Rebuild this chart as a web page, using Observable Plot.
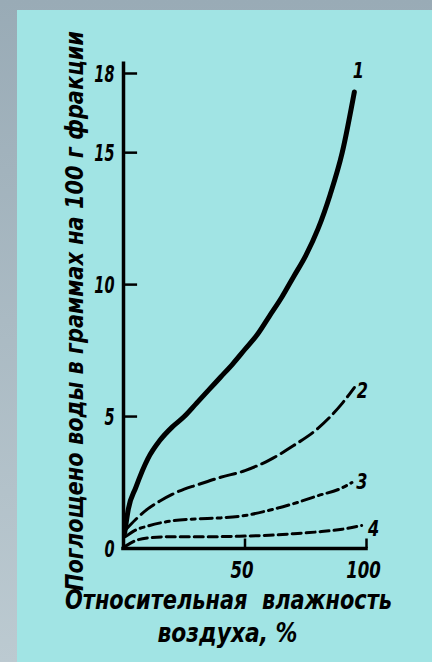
<!DOCTYPE html>
<html><head><meta charset="utf-8">
<script src="https://cdn.jsdelivr.net/npm/d3@7"></script>
<script src="https://cdn.jsdelivr.net/npm/@observablehq/plot@0.6"></script>
<style>
html,body{margin:0;padding:0;width:432px;height:662px;overflow:hidden;background:linear-gradient(#99abb6,#bccad1);}
#panel{position:absolute;left:17px;top:10px;width:415px;height:652px;background:#a1e4e4;}
#chart{position:absolute;left:0;top:0;}
</style></head><body><div id="panel"></div><div id="chart"></div>
<script>
// Relative humidity (%) and absorbed water (g per 100 g fraction) for four fractions
const hum1 = [0.5, 2, 5, 10, 15, 20, 25, 30, 35, 40, 45, 50, 55, 60, 65, 70, 75, 80, 85, 90, 95];
const val1 = [0.6, 1.5, 2.3, 3.4, 4.1, 4.6, 5.0, 5.5, 6.0, 6.5, 7.0, 7.55, 8.1, 8.8, 9.5, 10.3, 11.1, 12.1, 13.4, 15.0, 17.3];
const hum2 = [0.8, 5, 10, 15, 20, 25, 30, 40, 50, 60, 70, 80, 90, 95];
const val2 = [0.7, 1.1, 1.5, 1.8, 2.05, 2.25, 2.4, 2.7, 2.95, 3.35, 3.9, 4.55, 5.5, 6.1];
const hum3 = [0.8, 5, 10, 20, 30, 40, 50, 60, 70, 80, 90, 94];
const val3 = [0.45, 0.7, 0.85, 1.05, 1.12, 1.16, 1.25, 1.45, 1.7, 2.0, 2.3, 2.5];
const hum4 = [1, 5, 10, 20, 30, 40, 50, 60, 70, 80, 90, 98];
const val4 = [0.1, 0.3, 0.4, 0.45, 0.45, 0.45, 0.47, 0.5, 0.56, 0.63, 0.73, 0.87];
const seriesNames = ["1", "2", "3", "4"];
const yTicks = [0, 5, 10, 15, 18];
const xTicks = [50, 100];
const yTitle = "Поглощено воды в граммах на 100 г фракции";
const xTitle1 = "Относительная  влажность";
const xTitle2 = "воздуха, %";

const hums = [hum1, hum2, hum3, hum4];
const vals = [val1, val2, val3, val4];
const table = seriesNames.flatMap((s, i) => hums[i].map((h, j) => ({series: s, x: h, y: vals[i][j]})));
const of = s => table.filter(d => d.series === s);

const FONT = "'DejaVu Sans Condensed','DejaVu Sans',sans-serif";
const txt = {fontFamily: FONT, fontStyle: "italic", fontWeight: "bold", fill: "black"};
const dashes = {"2": "16,6", "3": "12,5,4,5", "4": "9,5"};
const labelOffsets = {"1": [4, -21], "2": [8, 4], "3": [10, 0], "4": [12, 4]};

const svg = Plot.plot({
  width: 432, height: 662,
  marginLeft: 123, marginRight: 66, marginTop: 73, marginBottom: 114,
  x: {domain: [0, 100], axis: null},
  y: {domain: [0, 18], axis: null},
  style: {background: "transparent", fontFamily: FONT, color: "black"},
  marks: [
    Plot.ruleX([0], {y1: 0, y2: 18.37, strokeWidth: 3.5, strokeLinecap: "square"}),
    Plot.ruleY([0], {x1: 0, x2: 100, strokeWidth: 3.5, strokeLinecap: "square"}),
    Plot.ruleY(yTicks.filter(d => d > 0), {y: d => d, x1: 0, x2: 5.8, strokeWidth: 2.5}),
    Plot.ruleX(xTicks, {x: d => d, y1: 0, y2: 0.36, strokeWidth: 2.5}),
    Plot.text(yTicks, {y: d => d, text: d => String(d), frameAnchor: "left", textAnchor: "end", lineAnchor: "middle", dx: -9, dy: 1, fontSize: 23, ariaDescription: "yticklabels", ...txt}),
    Plot.text(xTicks, {x: d => d, text: d => String(d), frameAnchor: "bottom", lineAnchor: "bottom", dx: -3, dy: 29, fontSize: 23, ariaDescription: "xticklabels", ...txt}),
    Plot.line(of("1"), {x: "x", y: "y", curve: "monotone-x", strokeWidth: 5, stroke: "black", strokeLinecap: "round"}),
    ...["2", "3", "4"].map(s => Plot.line(of(s), {x: "x", y: "y", curve: "monotone-x", strokeWidth: 3, stroke: "black", strokeDasharray: dashes[s]})),
    ...seriesNames.map(s => Plot.text(of(s), Plot.selectLast({x: "x", y: "y", text: "series", dx: labelOffsets[s][0], dy: labelOffsets[s][1], fontSize: 21, textAnchor: "middle", lineAnchor: "middle", ariaDescription: "serieslabel", ...txt}))),
    Plot.text([yTitle], {text: d => d, frameAnchor: "left", rotate: -90, textAnchor: "middle", lineAnchor: "bottom", dx: -41, fontSize: 24, ariaDescription: "ytitle", ...txt}),
    Plot.text([xTitle1], {text: d => d, frameAnchor: "bottom", textAnchor: "middle", lineAnchor: "bottom", dx: -16.5, dy: 60, fontSize: 26, ariaDescription: "xtitle1", ...txt}),
    Plot.text([xTitle2], {text: d => d, frameAnchor: "bottom", textAnchor: "middle", lineAnchor: "bottom", dx: -17.5, dy: 93, fontSize: 26, ariaDescription: "xtitle2", ...txt})
  ]
});
document.getElementById("chart").append(svg);

function fit(label, target) {
  d3.select(svg).selectAll(`g[aria-description="${label}"] text`).each(function() {
    const t = typeof target === "function" ? target(this) : target;
    this.setAttribute("textLength", t);
    this.setAttribute("lengthAdjust", "spacingAndGlyphs");
  });
}
fit("ytitle", 560);
fit("xtitle1", 327);
fit("xtitle2", 140);
fit("yticklabels", el => el.getComputedTextLength() * 0.7);
fit("xticklabels", el => el.getComputedTextLength() * 0.8);
fit("serieslabel", el => el.getComputedTextLength() * 0.85);
</script></body></html>
